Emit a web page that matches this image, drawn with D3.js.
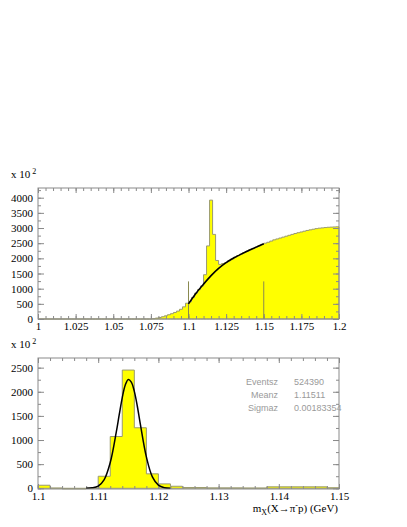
<!DOCTYPE html>
<html>
<head>
<meta charset="utf-8">
<script src="https://cdn.jsdelivr.net/npm/d3@7"></script>
<style>
  body { margin: 0; background: #fff; }
  svg { display: block; }
</style>
</head>
<body>
<div id="chart"></div>
<script>
// top histogram: 100 bins of 0.002 GeV from 1.0 (units of 10^2 entries)
const topBinStart = 1.0;
const topBinWidth = 0.002;
const topCounts = [
  0, 0, 0, 0, 0, 0, 0, 0, 0, 0,
  0, 0, 0, 0, 0, 0, 0, 0, 0, 0,
  0, 0, 0, 0, 0, 0, 0, 0, 0, 0,
  0, 0, 0, 0, 0, 0, 0, 0, 10, 30,
  50, 75, 105, 140, 175, 215, 260, 320, 400, 520,
  570, 710, 850, 970, 1090, 1460, 2410, 3920, 2790, 1930,
  1800, 1830, 1860, 1920, 1980, 2040, 2090, 2140, 2190, 2235,
  2285, 2325, 2370, 2415, 2460, 2500, 2530, 2570, 2610, 2640,
  2670, 2700, 2730, 2760, 2790, 2820, 2845, 2870, 2895, 2920,
  2940, 2960, 2980, 2995, 3005, 3015, 3025, 3030, 3035, 3040
];
// background fit drawn over 1.10 - 1.15
const topFitX = [1.100, 1.105, 1.110, 1.115, 1.120, 1.125, 1.130, 1.135, 1.140, 1.145, 1.150];
const topFitY = [500, 850, 1150, 1430, 1670, 1860, 2010, 2140, 2260, 2370, 2480];
// fit range markers
const topRangeX = [1.10, 1.15];
const topRangeY = [1240, 1240];

// bottom histogram: background subtracted, 25 bins of 0.002 GeV from 1.10
const botBinStart = 1.1;
const botBinWidth = 0.002;
const botCounts = [
  63, 5, -12, -12, 0, 249, 1073, 2450, 1254, 299,
  91, 42, 15, 15, 8, 8, 8, 5, 5, 30,
  30, 30, 30, 30, 10
];
// gaussian fit
const botFitX = [1.108, 1.109, 1.110, 1.111, 1.112, 1.113, 1.1135, 1.114, 1.1145, 1.115, 1.1155,
                 1.116, 1.1165, 1.117, 1.118, 1.119, 1.120, 1.121, 1.122];
const botFitY = [1, 9, 46, 181, 533, 1162, 1530, 1880, 2140, 2256, 2200,
                 2009, 1700, 1328, 650, 236, 64, 13, 2];

// axes
const topXTicks = [1, 1.025, 1.05, 1.075, 1.1, 1.125, 1.15, 1.175, 1.2];
const topYTicks = [0, 500, 1000, 1500, 2000, 2500, 3000, 3500, 4000];
const botXTicks = [1.1, 1.11, 1.12, 1.13, 1.14, 1.15];
const botYTicks = [0, 500, 1000, 1500, 2000, 2500];

const statLabels = ["Eventsz", "Meanz", "Sigmaz"];
const statValues = ["524390", "1.11511", "0.00183354"];

const width = 407, height = 527;
const serif = "'Liberation Serif', 'Times New Roman', serif";
const frameColor = "#8a8a8a";
const outlineColor = "#9a9a70";

const svg = d3.select("#chart").append("svg")
    .attr("width", width)
    .attr("height", height);

const frameLeft = 38, frameRight = 339;

function makeBins(start, w, counts) {
    const pts = counts.map((c, i) => ({ x: start + i * w, y: c }));
    pts.push({ x: start + counts.length * w, y: counts[counts.length - 1] });
    return pts;
}

function drawPanel(opts) {
    const { top, bottom, xDomain, yDomain, bins, xTicks, xMinorStep, yTicks, yMinorStep, fmtX } = opts;
    const h = bottom - top, w = frameRight - frameLeft;
    const g = svg.append("g").attr("transform", `translate(${frameLeft},${top})`);

    const x = d3.scaleLinear().domain(xDomain).range([0, w]);
    const y = d3.scaleLinear().domain(yDomain).range([h, 0]);

    // histogram fill
    const area = d3.area()
        .x(d => x(d.x))
        .y0(y(0))
        .y1(d => y(d.y))
        .curve(d3.curveStepAfter);
    g.append("path")
        .datum(bins)
        .attr("d", area)
        .attr("fill", "#ffff00")
        .attr("stroke", outlineColor)
        .attr("stroke-width", 1);

    const xMinor = d3.range(xDomain[0], xDomain[1] + 1e-9, xMinorStep);
    const yMinor = d3.range(0, yDomain[1], yMinorStep);

    const style = sel => {
        sel.select(".domain").remove();
        sel.selectAll("line").attr("stroke", frameColor);
        sel.selectAll("text")
            .attr("fill", "#000")
            .style("font-family", serif)
            .style("font-size", "11px");
    };

    // bottom ticks + labels
    g.append("g").attr("transform", `translate(0,${h})`)
        .call(d3.axisBottom(x).tickValues(xMinor).tickSizeInner(-3).tickSizeOuter(0).tickFormat(""))
        .call(style);
    g.append("g").attr("transform", `translate(0,${h})`)
        .call(d3.axisBottom(x).tickValues(xTicks).tickSizeInner(-5).tickSizeOuter(0).tickPadding(3).tickFormat(fmtX))
        .call(style);
    // top mirrored ticks
    g.append("g")
        .call(d3.axisTop(x).tickValues(xMinor).tickSizeInner(-3).tickSizeOuter(0).tickFormat(""))
        .call(style);
    g.append("g")
        .call(d3.axisTop(x).tickValues(xTicks).tickSizeInner(-5).tickSizeOuter(0).tickFormat(""))
        .call(style);
    // left ticks + labels
    g.append("g")
        .call(d3.axisLeft(y).tickValues(yMinor).tickSizeInner(-3).tickSizeOuter(0).tickFormat(""))
        .call(style);
    g.append("g")
        .call(d3.axisLeft(y).tickValues(yTicks).tickSizeInner(-6).tickSizeOuter(0).tickPadding(5).tickFormat(d3.format("d")))
        .call(style);
    // right mirrored ticks
    g.append("g").attr("transform", `translate(${w},0)`)
        .call(d3.axisRight(y).tickValues(yMinor).tickSizeInner(-3).tickSizeOuter(0).tickFormat(""))
        .call(style);
    g.append("g").attr("transform", `translate(${w},0)`)
        .call(d3.axisRight(y).tickValues(yTicks).tickSizeInner(-6).tickSizeOuter(0).tickFormat(""))
        .call(style);

    // "x 10^2" multiplier
    const mult = svg.append("text")
        .attr("x", 11)
        .attr("y", top - 10)
        .style("font-family", serif)
        .style("font-size", "11px")
        .text("x 10");
    mult.append("tspan")
        .attr("dy", -4)
        .attr("dx", 2)
        .style("font-size", "8px")
        .text("2");

    return { g, x, y, w, h };
}

const fmtTrim = d => String(+d.toFixed(3));

// top panel
const topP = drawPanel({
    top: 188, bottom: 319,
    xDomain: [1.0, 1.2], yDomain: [0, 4320],
    bins: makeBins(topBinStart, topBinWidth, topCounts),
    xTicks: topXTicks, xMinorStep: 0.005,
    yTicks: topYTicks, yMinorStep: 250,
    fmtX: fmtTrim
});

topP.g.append("g").selectAll("line")
    .data(topRangeX)
    .join("line")
    .attr("x1", d => topP.x(d))
    .attr("x2", d => topP.x(d))
    .attr("y1", topP.y(0))
    .attr("y2", (d, i) => topP.y(topRangeY[i]))
    .attr("stroke", "#8a8a50")
    .attr("stroke-width", 1);

topP.g.append("path")
    .datum(topFitX.map((v, i) => [v, topFitY[i]]))
    .attr("d", d3.line().x(d => topP.x(d[0])).y(d => topP.y(d[1])).curve(d3.curveCatmullRom))
    .attr("fill", "none")
    .attr("stroke", "#000")
    .attr("stroke-width", 1.6);

topP.g.append("rect")
    .attr("width", topP.w).attr("height", topP.h)
    .attr("fill", "none").attr("stroke", frameColor);

// bottom panel
const botP = drawPanel({
    top: 358, bottom: 489,
    xDomain: [1.1, 1.15], yDomain: [-15, 2700],
    bins: makeBins(botBinStart, botBinWidth, botCounts),
    xTicks: botXTicks, xMinorStep: 0.002,
    yTicks: botYTicks, yMinorStep: 250,
    fmtX: fmtTrim
});

botP.g.append("path")
    .datum(botFitX.map((v, i) => [v, botFitY[i]]))
    .attr("d", d3.line().x(d => botP.x(d[0])).y(d => botP.y(d[1])).curve(d3.curveCatmullRom))
    .attr("fill", "none")
    .attr("stroke", "#000")
    .attr("stroke-width", 1.5);

botP.g.append("rect")
    .attr("width", botP.w).attr("height", botP.h)
    .attr("fill", "none").attr("stroke", frameColor);

// statistics box text
const stats = svg.append("g")
    .style("font-family", "'Liberation Sans', Arial, sans-serif")
    .style("font-size", "9px")
    .attr("fill", "#9a9a9a");
statLabels.forEach((lab, i) => {
    stats.append("text")
        .attr("x", 278).attr("y", 385 + i * 13)
        .attr("text-anchor", "end")
        .text(lab);
    stats.append("text")
        .attr("x", 294).attr("y", 385 + i * 13)
        .text(statValues[i]);
});

// x axis title
const title = svg.append("text")
    .attr("x", 338).attr("y", 512)
    .attr("text-anchor", "end")
    .style("font-family", serif)
    .style("font-size", "11px");
title.append("tspan").text("m");
title.append("tspan").attr("dy", 3).style("font-size", "8px").text("X");
title.append("tspan").attr("dy", -3).text("(X\u2192\u03c0");
title.append("tspan").attr("dy", -4).style("font-size", "8px").text("-");
title.append("tspan").attr("dy", 4).text("p) (GeV)");
</script>
</body>
</html>
